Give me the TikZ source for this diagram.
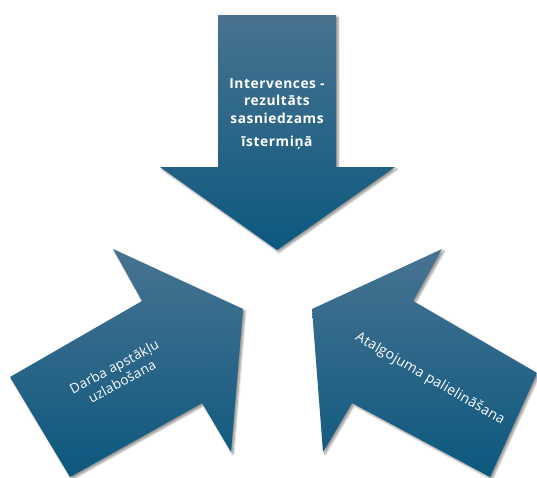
\documentclass[tikz,border=0pt]{standalone}
\usepackage{fontspec}
\setmainfont{Open Sans}
\usetikzlibrary{shadows.blur}
\definecolor{arrtop}{RGB}{72,115,145}
\definecolor{arrbot}{RGB}{12,88,126}
\tikzset{
  arrowshape/.style={top color=arrtop, bottom color=arrbot,
    blur shadow={shadow xshift=2pt, shadow yshift=-2pt, shadow blur steps=6, shadow opacity=45}},
  lbl/.style={text=white, inner sep=0pt, align=center}
}
\begin{document}
\begin{tikzpicture}[x=1pt,y=-1pt]
\useasboundingbox (0,0) rectangle (537,477);
% top arrow
\shade[arrowshape] (218,15) -- (336,15) -- (336,167) -- (395,167) -- (277,250) -- (160,167) -- (218,167) -- cycle;
% left arrow
\shade[arrowshape] (10,377) -- (142,301) -- (113,249) -- (243,309) -- (231,452) -- (202,403) -- (70,477) -- cycle;
% right arrow
\shade[arrowshape] (537,373) -- (413,301) -- (442,249) -- (312,309) -- (323,452) -- (352,403) -- (490,477) -- cycle;
\node[lbl, font=\bfseries\fontsize{13.8}{17.5}\selectfont\addfontfeatures{LetterSpace=4}] (toptext) at (277,114) {Intervences -\\rezultāts\\sasniedzams\\[6pt]īstermiņā};
\node[lbl, font=\fontsize{13.5}{16.5}\selectfont\addfontfeatures{LetterSpace=2}, rotate=28] (lefttext) at (118,374) {Darba apstākļu\\uzlabošana};
\node[lbl, font=\fontsize{14}{17}\selectfont\addfontfeatures{LetterSpace=2}, rotate=-30] (righttext) at (430,379) {Atalgojuma palielināšana};
\end{tikzpicture}
\end{document}
